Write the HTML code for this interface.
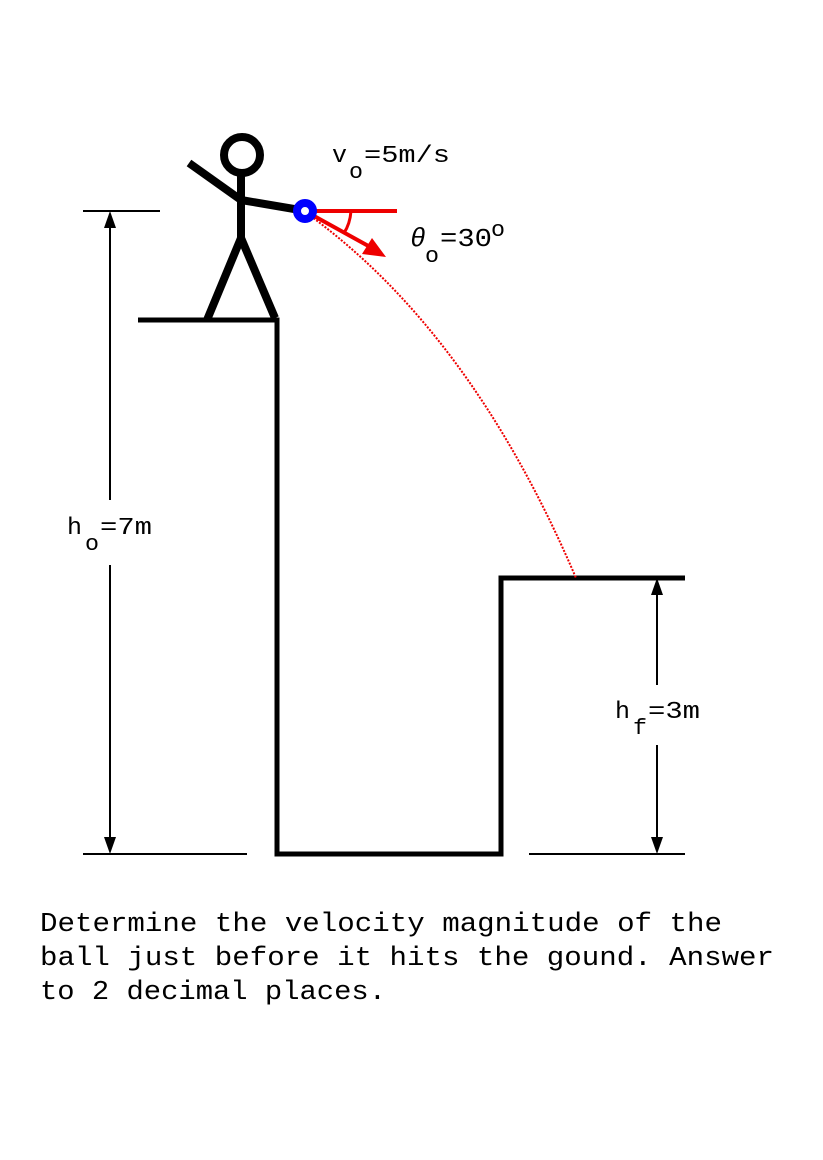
<!DOCTYPE html>
<html><head><style>
body{margin:0;background:#fff;width:823px;height:1155px;overflow:hidden}
svg text{font-family:"Liberation Mono",monospace;fill:#000}
</style></head><body>
<svg width="823" height="1155" viewBox="0 0 823 1155" xmlns="http://www.w3.org/2000/svg">
<g stroke="#000" fill="none" stroke-linecap="butt">
 <path d="M138 320 H277 V854 H501 V578 H685" stroke-width="5"/>
 <circle cx="242" cy="155" r="18" stroke-width="8"/>
 <line x1="241" y1="173" x2="241" y2="240" stroke-width="8"/>
 <line x1="189" y1="163" x2="241" y2="200" stroke-width="8"/>
 <line x1="241" y1="200" x2="300" y2="210" stroke-width="8"/>
 <line x1="241" y1="238" x2="207" y2="320" stroke-width="8"/>
 <line x1="241" y1="238" x2="275" y2="318" stroke-width="8"/>
 <line x1="83" y1="211" x2="160" y2="211" stroke-width="2"/>
 <line x1="83" y1="854" x2="247" y2="854" stroke-width="2"/>
 <line x1="529" y1="854" x2="685" y2="854" stroke-width="2"/>
 <line x1="110" y1="225" x2="110" y2="500" stroke-width="2"/>
 <line x1="110" y1="565" x2="110" y2="840" stroke-width="2"/>
 <line x1="657" y1="592" x2="657" y2="685" stroke-width="2"/>
 <line x1="657" y1="745" x2="657" y2="840" stroke-width="2"/>
</g>
<g fill="#000">
 <polygon points="110,211 104,228 116,228"/>
 <polygon points="110,854 104,837 116,837"/>
 <polygon points="657,578 651,595 663,595"/>
 <polygon points="657,854 651,837 663,837"/>
</g>
<path d="M305 212 Q470 330 576 578" stroke="#e00" stroke-width="2" stroke-dasharray="2,1.5" fill="none"/>
<line x1="305" y1="211" x2="397" y2="211" stroke="#e00" stroke-width="4"/>
<line x1="305" y1="211" x2="372" y2="248" stroke="#e00" stroke-width="4"/>
<polygon points="386,257 362,254 372,238" fill="#e00"/>
<path d="M351 211 Q350 224 344 233" stroke="#e00" stroke-width="3" fill="none"/>
<circle cx="305" cy="211" r="8" stroke="#00f" stroke-width="8" fill="#fff"/>
<text x="332" y="162" font-size="24" textLength="15" lengthAdjust="spacingAndGlyphs">v</text><text x="349" y="178" font-size="22" textLength="14" lengthAdjust="spacingAndGlyphs">o</text><text x="364" y="162" font-size="24" textLength="86" lengthAdjust="spacingAndGlyphs">=5m/s</text>
<text x="410" y="246" font-size="26" font-family="Liberation Serif" font-style="italic">θ</text><text x="425" y="262" font-size="22" textLength="14" lengthAdjust="spacingAndGlyphs">o</text><text x="440" y="246" font-size="26" textLength="52" lengthAdjust="spacingAndGlyphs">=30</text><text x="491" y="236" font-size="22" textLength="14" lengthAdjust="spacingAndGlyphs">o</text>
<text x="67" y="534" font-size="24" textLength="15" lengthAdjust="spacingAndGlyphs">h</text><text x="85" y="550" font-size="22" textLength="14" lengthAdjust="spacingAndGlyphs">o</text><text x="100" y="534" font-size="24" textLength="52" lengthAdjust="spacingAndGlyphs">=7m</text>
<text x="615" y="718" font-size="24" textLength="15" lengthAdjust="spacingAndGlyphs">h</text><text x="633" y="734" font-size="22" textLength="14" lengthAdjust="spacingAndGlyphs">f</text><text x="648" y="718" font-size="24" textLength="52" lengthAdjust="spacingAndGlyphs">=3m</text>
<text x="40" y="931" font-size="27" textLength="682" lengthAdjust="spacingAndGlyphs">Determine the velocity magnitude of the</text>
<text x="40" y="965" font-size="27" textLength="734" lengthAdjust="spacingAndGlyphs">ball just before it hits the gound. Answer</text>
<text x="40" y="999" font-size="27" textLength="346" lengthAdjust="spacingAndGlyphs">to 2 decimal places.</text>
</svg>
</body></html>
